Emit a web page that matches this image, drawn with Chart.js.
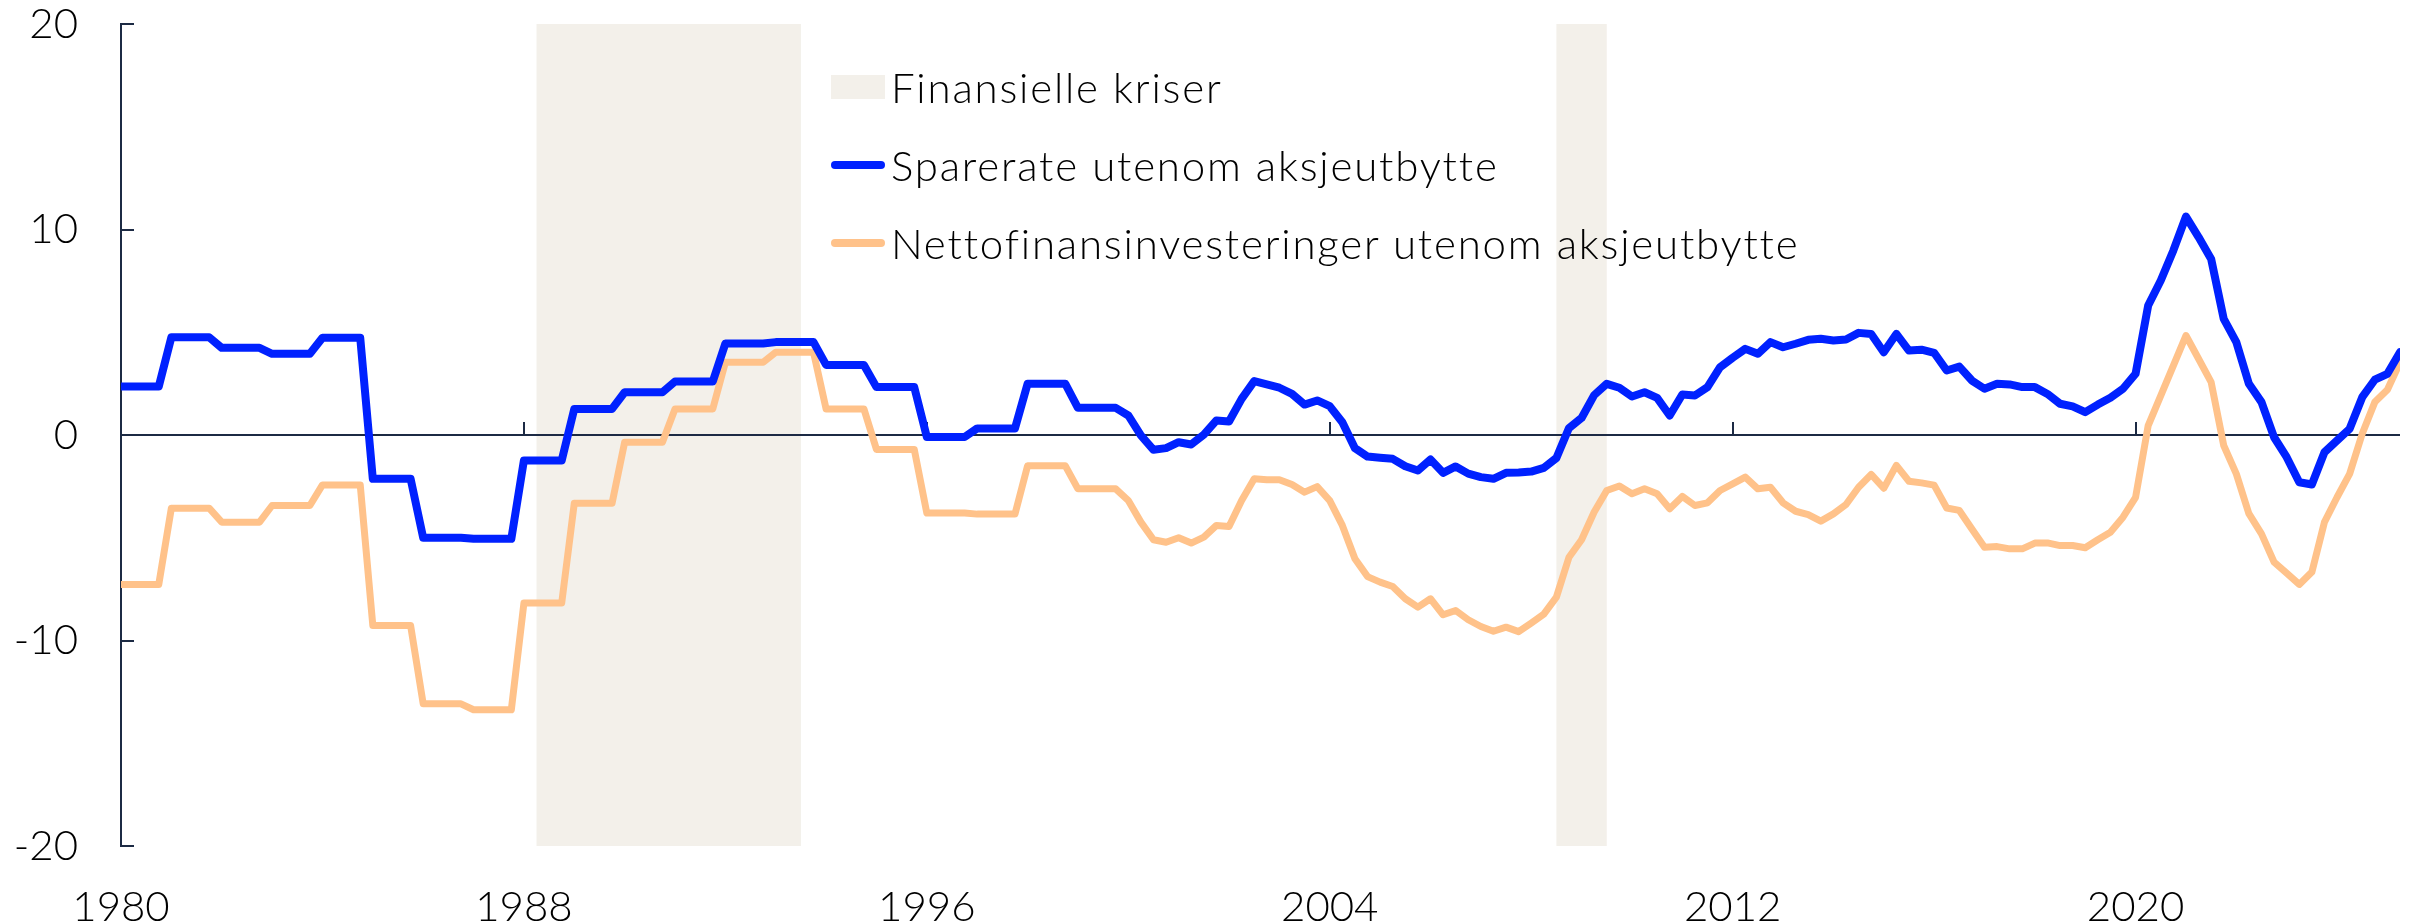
<!DOCTYPE html>
<html>
<head>
<meta charset="utf-8">
<script src="https://cdn.jsdelivr.net/npm/chart.js@4.4.1/dist/chart.umd.min.js"></script>
<style>
  html, body { margin: 0; padding: 0; background: #fff; }
  #wrap { position: relative; width: 2421px; height: 923px; }
  #legend { position: absolute; left: 831px; top: 48px; font-family: Lato, sans-serif; font-weight: 300; font-size: 42px; letter-spacing: 1.8px; color: #000; }
  .item { display: flex; align-items: center; height: 78px; white-space: nowrap; }
  .swatch { width: 54px; margin-right: 6px; flex: none; }
</style>
</head>
<body>
<div id="wrap">
  <canvas id="savingChart" width="2421" height="923"></canvas>
  <div id="legend"></div>
</div>
<script>
// quarterly values, 1980K1 - 2025K2 (annual figures repeated per quarter until 1999)
const firstYear = 1980;
const saveRate = [
  2.36, 2.36, 2.36, 2.36,
  4.76, 4.76, 4.76, 4.76,
  4.24, 4.24, 4.24, 4.24,
  3.95, 3.95, 3.95, 3.95,
  4.73, 4.73, 4.73, 4.73,
  -2.13, -2.13, -2.13, -2.13,
  -5.0, -5.0, -5.0, -5.0,
  -5.05, -5.05, -5.05, -5.05,
  -1.24, -1.24, -1.24, -1.24,
  1.27, 1.27, 1.27, 1.27,
  2.08, 2.08, 2.08, 2.08,
  2.6, 2.6, 2.6, 2.6,
  4.45, 4.45, 4.45, 4.45,
  4.52, 4.52, 4.52, 4.52,
  3.41, 3.41, 3.41, 3.41,
  2.33, 2.33, 2.33, 2.33,
  -0.1, -0.1, -0.1, -0.1,
  0.32, 0.32, 0.32, 0.32,
  2.49, 2.49, 2.49, 2.49,
  1.32, 1.32, 1.32, 1.32,
  0.95, -0.02, -0.72, -0.64,
  -0.35, -0.46, 0.02, 0.71,
  0.66, 1.76, 2.62, 2.46,
  2.3, 2.0, 1.48, 1.68,
  1.4, 0.62, -0.64, -1.05,
  -1.11, -1.16, -1.52, -1.73,
  -1.19, -1.84, -1.53, -1.88,
  -2.05, -2.13, -1.84, -1.82,
  -1.78, -1.6, -1.12, 0.34,
  0.83, 1.94, 2.49, 2.3,
  1.87, 2.08, 1.81, 0.95,
  1.97, 1.92, 2.33, 3.3,
  3.76, 4.19, 3.95, 4.52,
  4.27, 4.44, 4.63, 4.68,
  4.6, 4.65, 4.97, 4.92,
  4.03, 4.92, 4.11, 4.15,
  4.0, 3.14, 3.33, 2.65,
  2.25, 2.49, 2.46, 2.33,
  2.33, 2.0, 1.52, 1.39,
  1.11, 1.48, 1.81, 2.25,
  2.98, 6.3, 7.52, 8.98,
  10.63, 9.63, 8.57, 5.65,
  4.52, 2.49, 1.6, -0.11,
  -1.08, -2.3, -2.41, -0.84,
  -0.27, 0.3, 1.84, 2.69,
  2.98, 4.03
];
const netInvest = [
  -7.27, -7.27, -7.27, -7.27,
  -3.56, -3.56, -3.56, -3.56,
  -4.24, -4.24, -4.24, -4.24,
  -3.43, -3.43, -3.43, -3.43,
  -2.43, -2.43, -2.43, -2.43,
  -9.27, -9.27, -9.27, -9.27,
  -13.08, -13.08, -13.08, -13.08,
  -13.37, -13.37, -13.37, -13.37,
  -8.18, -8.18, -8.18, -8.18,
  -3.32, -3.32, -3.32, -3.32,
  -0.35, -0.35, -0.35, -0.35,
  1.27, 1.27, 1.27, 1.27,
  3.54, 3.54, 3.54, 3.54,
  4.03, 4.03, 4.03, 4.03,
  1.27, 1.27, 1.27, 1.27,
  -0.7, -0.7, -0.7, -0.7,
  -3.8, -3.8, -3.8, -3.8,
  -3.85, -3.85, -3.85, -3.85,
  -1.5, -1.5, -1.5, -1.5,
  -2.62, -2.62, -2.62, -2.62,
  -3.19, -4.24, -5.1, -5.22,
  -5.0, -5.26, -4.97, -4.4,
  -4.45, -3.19, -2.13, -2.18,
  -2.18, -2.41, -2.78, -2.51,
  -3.19, -4.4, -6.02, -6.89,
  -7.16, -7.37, -7.97, -8.38,
  -7.97, -8.75, -8.54, -8.99,
  -9.32, -9.55, -9.35, -9.57,
  -9.15, -8.72, -7.89, -5.95,
  -5.1, -3.75, -2.7, -2.48,
  -2.86, -2.62, -2.86, -3.59,
  -2.99, -3.43, -3.3, -2.7,
  -2.38, -2.05, -2.62, -2.54,
  -3.3, -3.71, -3.87, -4.19,
  -3.84, -3.38, -2.54, -1.92,
  -2.59, -1.48, -2.25, -2.33,
  -2.44, -3.55, -3.67, -4.57,
  -5.46, -5.43, -5.54, -5.54,
  -5.26, -5.25, -5.38, -5.38,
  -5.49, -5.1, -4.73, -4.0,
  -3.03, 0.46, 1.92, 3.38,
  4.84, 3.71, 2.57, -0.51,
  -1.89, -3.83, -4.81, -6.19,
  -6.72, -7.27, -6.67, -4.24,
  -3.03, -1.89, 0.06, 1.6,
  2.2, 3.54
];
const yearTicks = [1980, 1988, 1996, 2004, 2012, 2020];
const valueTicks = [-20, -10, 0, 10, 20];
const crisisStart = [1988.25, 2008.5];
const crisisEnd = [1993.5, 2009.5];

const seriesNames = ['Sparerate utenom aksjeutbytte', 'Nettofinansinvesteringer utenom aksjeutbytte'];
const bandName = 'Finansielle kriser';

const blue = '#0021ff';
const orange = '#ffc28a';
const bandColor = '#f3f0ea';
const axisColor = '#1c2a44';
const tickFont = { family: 'Lato', size: 42, weight: '300' };

// x position (in years) of each quarter
function toPoints(values) {
    return values.map((v, i) => ({ x: firstYear + i / 4, y: v }));
}

// shaded crisis periods, drawn behind everything
const crisisBands = {
    id: 'crisisBands',
    beforeDraw(chart) {
        const { ctx, chartArea, scales } = chart;
        ctx.save();
        ctx.fillStyle = bandColor;
        crisisStart.forEach((start, i) => {
            const x0 = scales.x.getPixelForValue(start);
            const x1 = scales.x.getPixelForValue(crisisEnd[i]);
            ctx.fillRect(x0, chartArea.top, x1 - x0, chartArea.bottom - chartArea.top);
        });
        ctx.restore();
    }
};

// small inward tick marks on the y axis and on the zero line
const innerTicks = {
    id: 'innerTicks',
    beforeDatasetsDraw(chart) {
        const { ctx, chartArea, scales } = chart;
        ctx.save();
        ctx.strokeStyle = axisColor;
        ctx.lineWidth = 2;
        ctx.beginPath();
        valueTicks.forEach(v => {
            const y = Math.round(scales.y.getPixelForValue(v));
            ctx.moveTo(chartArea.left, y);
            ctx.lineTo(chartArea.left + 13, y);
        });
        const y0 = Math.round(scales.y.getPixelForValue(0));
        yearTicks.slice(1).forEach(yr => {
            const x = Math.round(scales.x.getPixelForValue(yr));
            ctx.moveTo(x, y0);
            ctx.lineTo(x, y0 - 13);
        });
        ctx.stroke();
        ctx.restore();
    }
};

document.addEventListener('DOMContentLoaded', function() {
    var ctx = document.getElementById('savingChart').getContext('2d');

    new Chart(ctx, {
        type: 'line',
        data: {
            datasets: [{
                label: seriesNames[0],
                data: toPoints(saveRate),
                borderColor: blue,
                borderWidth: 8,
                borderJoinStyle: 'round',
                borderCapStyle: 'round',
                pointRadius: 0,
                tension: 0
            }, {
                label: seriesNames[1],
                data: toPoints(netInvest),
                borderColor: orange,
                borderWidth: 7,
                borderJoinStyle: 'round',
                borderCapStyle: 'round',
                pointRadius: 0,
                tension: 0
            }]
        },
        options: {
            responsive: false,
            animation: false,
            layout: {
                padding: { top: 24, right: 21, left: 0, bottom: 0 }
            },
            plugins: {
                legend: { display: false },
                tooltip: { enabled: false }
            },
            scales: {
                x: {
                    type: 'linear',
                    min: 1980,
                    max: 2025.25,
                    grid: { display: false },
                    border: { display: false },
                    afterBuildTicks: scale => { scale.ticks = yearTicks.map(v => ({ value: v })); },
                    afterFit: scale => { scale.height = 77; scale.paddingLeft = 0; scale.paddingRight = 0; },
                    ticks: {
                        padding: 28,
                        font: tickFont,
                        color: '#000',
                        maxRotation: 0,
                        minRotation: 0,
                        autoSkip: false,
                        callback: v => String(v)
                    }
                },
                y: {
                    min: -20,
                    max: 20,
                    afterBuildTicks: scale => { scale.ticks = valueTicks.map(v => ({ value: v })); },
                    afterFit: scale => { scale.width = 121; scale.paddingTop = 0; scale.paddingBottom = 0; },
                    grid: {
                        drawTicks: false,
                        lineWidth: 2,
                        color: c => (c.tick && c.tick.value === 0) ? axisColor : 'rgba(0,0,0,0)'
                    },
                    border: { display: true, color: axisColor, width: 2 },
                    ticks: {
                        padding: 43,
                        font: tickFont,
                        color: '#000'
                    }
                }
            }
        },
        plugins: [crisisBands, innerTicks]
    });

    // legend as plain html text
    var legend = document.getElementById('legend');
    var rows = [
        { name: bandName, style: 'height:24px;background:' + bandColor },
        { name: seriesNames[0], style: 'height:8px;border-radius:4px;background:' + blue },
        { name: seriesNames[1], style: 'height:8px;border-radius:4px;background:' + orange }
    ];
    rows.forEach(function(r) {
        var item = document.createElement('div');
        item.className = 'item';
        item.innerHTML = '<span class="swatch" style="' + r.style + '"></span><span>' + r.name + '</span>';
        legend.appendChild(item);
    });
});
</script>
</body>
</html>
